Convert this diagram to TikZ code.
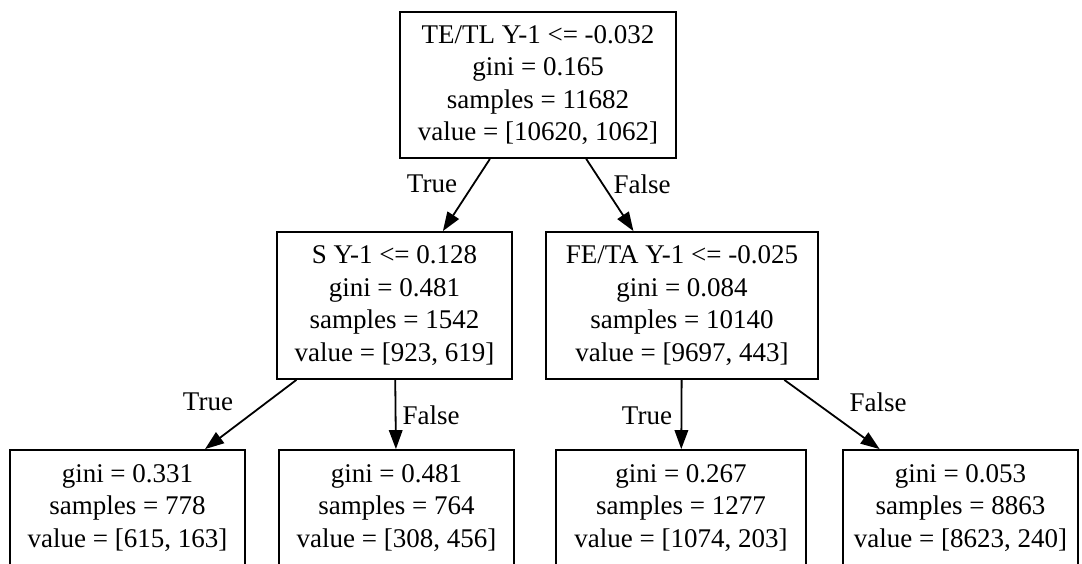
\documentclass[tikz,border=0pt]{standalone}
\usepackage{fontspec}
\setmainfont{Liberation Serif}
\usepackage{tikz}
\usetikzlibrary{arrows.meta}
\tikzset{
  split box/.style={
    draw=black,
    line width=1.8pt,
    fill=white,
    align=center,
    inner sep=0pt,
    font=\fontsize{27}{32.5}\selectfont
  },
  tree edge/.style={
    -{Triangle[length=19pt, width=13.5pt]},
    line width=1.8pt
  },
  edge label/.style={
    inner sep=0pt,
    font=\fontsize{27}{32.5}\selectfont
  }
}

\begin{document}
\begin{tikzpicture}[x=1pt, y=-1pt]
    \useasboundingbox (0, 0) rectangle (1082, 563);

    % wurzel
    \node[split box, minimum width=276pt, minimum height=146pt] (root) at (538, 85)
      {TE/TL Y-1 <= -0.032\\ gini = 0.165\\ samples = 11682\\ value = [10620, 1062]};

    % zweite ebene
    \node[split box, minimum width=235pt, minimum height=147pt] (sy) at (394.5, 305.5)
      {S Y-1 <= 0.128\\ gini = 0.481\\ samples = 1542\\ value = [923, 619]};
    \node[split box, minimum width=272pt, minimum height=147pt] (feta) at (682, 305.5)
      {FE/TA Y-1 <= -0.025\\ gini = 0.084\\ samples = 10140\\ value = [9697, 443]};

    % blaetter
    \node[split box, minimum width=235pt, minimum height=116pt] (leafa) at (127.5, 508)
      {gini = 0.331\\ samples = 778\\ value = [615, 163]};
    \node[split box, minimum width=235pt, minimum height=116pt] (leafb) at (396.5, 508)
      {gini = 0.481\\ samples = 764\\ value = [308, 456]};
    \node[split box, minimum width=250pt, minimum height=116pt] (leafc) at (681, 508)
      {gini = 0.267\\ samples = 1277\\ value = [1074, 203]};
    \node[split box, minimum width=235pt, minimum height=116pt] (leafd) at (960.5, 508)
      {gini = 0.053\\ samples = 8863\\ value = [8623, 240]};

    % kanten
    \draw[tree edge] (root) -- (sy);
    \draw[tree edge] (root) -- (feta);
    \draw[tree edge] (sy) -- (leafa);
    \draw[tree edge] (sy) -- (leafb);
    \draw[tree edge] (feta) -- (leafc);
    \draw[tree edge] (feta) -- (leafd);

    % beschriftungen
    \node[edge label] (ta) at (432, 184) {True};
    \node[edge label] (fa) at (642, 184) {False};
    \node[edge label] (tb) at (208, 402) {True};
    \node[edge label] (fb) at (431, 415) {False};
    \node[edge label] (tc) at (647, 416) {True};
    \node[edge label] (fc) at (878, 402) {False};

  \end{tikzpicture}
\end{document}
